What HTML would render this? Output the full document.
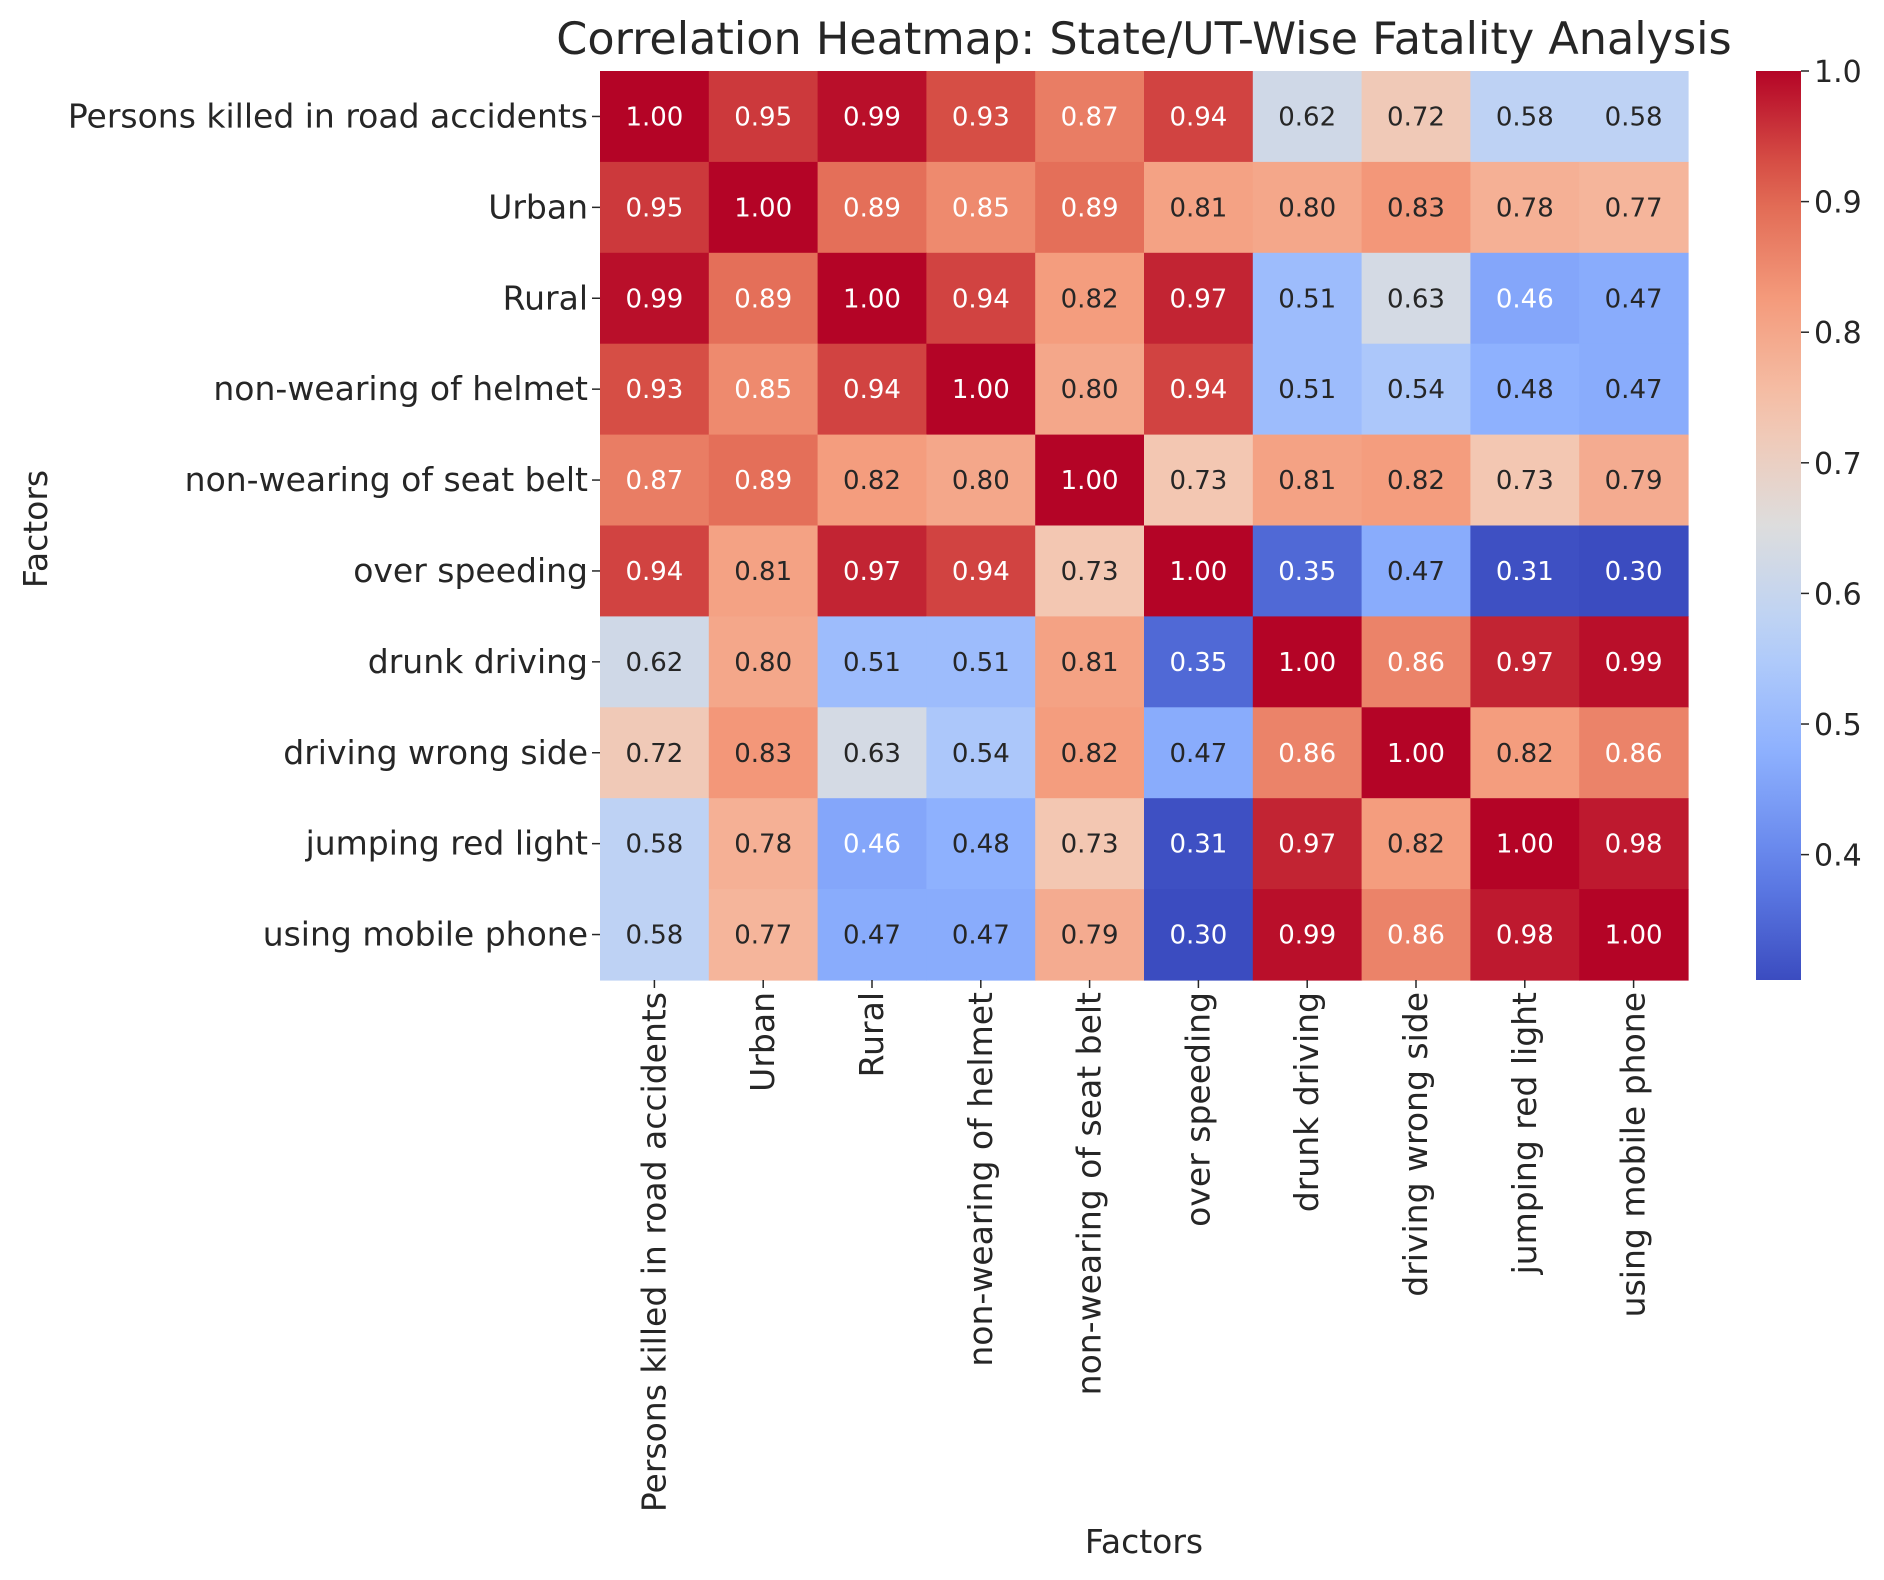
<!DOCTYPE html>
<html><head><meta charset="utf-8"><style>
html,body{margin:0;padding:0;background:#fff;}
svg{display:block;font-family:"DejaVu Sans","Liberation Sans",sans-serif;}
</style></head><body>
<svg id="chart" width="1884" height="1580" viewBox="0 0 1884 1580">
<text x="1144" y="54" font-size="44.5" fill="#262626" text-anchor="middle">Correlation Heatmap: State/UT-Wise Fatality Analysis</text>
<g id="cells"></g>
<g id="ylabels"></g>
<g id="xlabels"></g>
<g id="cbar"></g>
<text x="1144" y="1553" font-size="33" fill="#262626" text-anchor="middle">Factors</text>
<text x="0" y="0" font-size="33" fill="#262626" text-anchor="middle" transform="translate(47,529) rotate(-90)">Factors</text>
</svg>
<script>
const categories = ["Persons killed in road accidents","Urban","Rural","non-wearing of helmet","non-wearing of seat belt","over speeding","drunk driving","driving wrong side","jumping red light","using mobile phone"];
const row0 = [1.00,0.95,0.99,0.93,0.87,0.94,0.62,0.72,0.58,0.58];
const row1 = [0.95,1.00,0.89,0.85,0.89,0.81,0.80,0.83,0.78,0.77];
const row2 = [0.99,0.89,1.00,0.94,0.82,0.97,0.51,0.63,0.46,0.47];
const row3 = [0.93,0.85,0.94,1.00,0.80,0.94,0.51,0.54,0.48,0.47];
const row4 = [0.87,0.89,0.82,0.80,1.00,0.73,0.81,0.82,0.73,0.79];
const row5 = [0.94,0.81,0.97,0.94,0.73,1.00,0.35,0.47,0.31,0.30];
const row6 = [0.62,0.80,0.51,0.51,0.81,0.35,1.00,0.86,0.97,0.99];
const row7 = [0.72,0.83,0.63,0.54,0.82,0.47,0.86,1.00,0.82,0.86];
const row8 = [0.58,0.78,0.46,0.48,0.73,0.31,0.97,0.82,1.00,0.98];
const row9 = [0.58,0.77,0.47,0.47,0.79,0.30,0.99,0.86,0.98,1.00];
const colorbarTicks = [0.4,0.5,0.6,0.7,0.8,0.9,1.0];
const vmin = 0.304, vmax = 1.0;

const matrix=[row0,row1,row2,row3,row4,row5,row6,row7,row8,row9];
const NS="http://www.w3.org/2000/svg";
const L=600,R=1688,T=71,B=980;
const n=categories.length, cw=(R-L)/n, ch=(B-T)/n;
const xPos=i=>L+i*cw, yPos=i=>T+i*ch;
const stops=[[59,76,192],[98,130,234],[141,176,254],[184,208,249],[221,221,221],[245,196,173],[244,154,123],[222,96,77],[180,4,38]];
function cmap(v){let t=(v-vmin)/(vmax-vmin);t=Math.max(0,Math.min(1,t));const p=t*8,i=Math.min(7,Math.floor(p)),f=p-i;const a=stops[i],b=stops[i+1];return a.map((c,k)=>Math.round(c+(b[k]-c)*f));}
function lum(c){const l=c.map(x=>{x/=255;return x<=0.03928?x/12.92:Math.pow((x+0.055)/1.055,2.4)});return 0.2126*l[0]+0.7152*l[1]+0.0722*l[2];}
function mk(tag,attrs,parent){const e=document.createElementNS(NS,tag);for(const k in attrs)e.setAttribute(k,attrs[k]);parent.appendChild(e);return e;}
const cells=document.getElementById('cells');
matrix.forEach((row,r)=>row.forEach((v,c)=>{
  const col=cmap(v);
  const rect=mk('rect',{x:xPos(c),y:yPos(r),width:cw+0.6,height:ch+0.6,fill:`rgb(${col})`},cells);
  
  
  const t=mk('text',{x:xPos(c)+cw/2,y:yPos(r)+ch/2+9,'font-size':26,'text-anchor':'middle',fill:lum(col)>0.408?'#262626':'#ffffff'},cells);
  t.textContent=v.toFixed(2);
  
  
}));
const yl=document.getElementById('ylabels'), xl=document.getElementById('xlabels');
categories.forEach((name,i)=>{
  const yc=yPos(i)+ch/2;
  mk('line',{x1:L-8,x2:L,y1:yc,y2:yc,stroke:'#262626','stroke-width':1.5},yl);
  const t=mk('text',{x:L-12,y:yc+11,'font-size':33,'text-anchor':'end',fill:'#262626'},yl);
  t.textContent=name;
  
  
  const xc=xPos(i)+cw/2;
  mk('line',{x1:xc,x2:xc,y1:B,y2:B+8,stroke:'#262626','stroke-width':1.5},xl);
  const u=mk('text',{x:0,y:0,'font-size':33,'text-anchor':'end',fill:'#262626',transform:`translate(${xc+11},${B+12}) rotate(-90)`},xl);
  u.textContent=name;
  
  
});
const cb=document.getElementById('cbar');
const CL=1756,CR=1801;
const defs=mk('defs',{},cb);
const g=mk('linearGradient',{id:'cg',x1:0,y1:1,x2:0,y2:0},defs);
for(let i=0;i<=20;i++){const v=vmin+(vmax-vmin)*i/20;mk('stop',{offset:i/20,'stop-color':`rgb(${cmap(v)})`},g);}
const bar=mk('rect',{x:CL,y:T,width:CR-CL,height:B-T,fill:'url(#cg)'},cb);


const cy=v=>B-(v-vmin)/(vmax-vmin)*(B-T);
colorbarTicks.forEach(v=>{
  const y=cy(v);
  mk('line',{x1:CR,x2:CR+8,y1:y,y2:y,stroke:'#262626','stroke-width':1.5},cb);
  const t=mk('text',{x:CR+13,y:y+11,'font-size':30,fill:'#262626'},cb);
  t.textContent=v.toFixed(1);
  
  
});
</script>
</body></html>
